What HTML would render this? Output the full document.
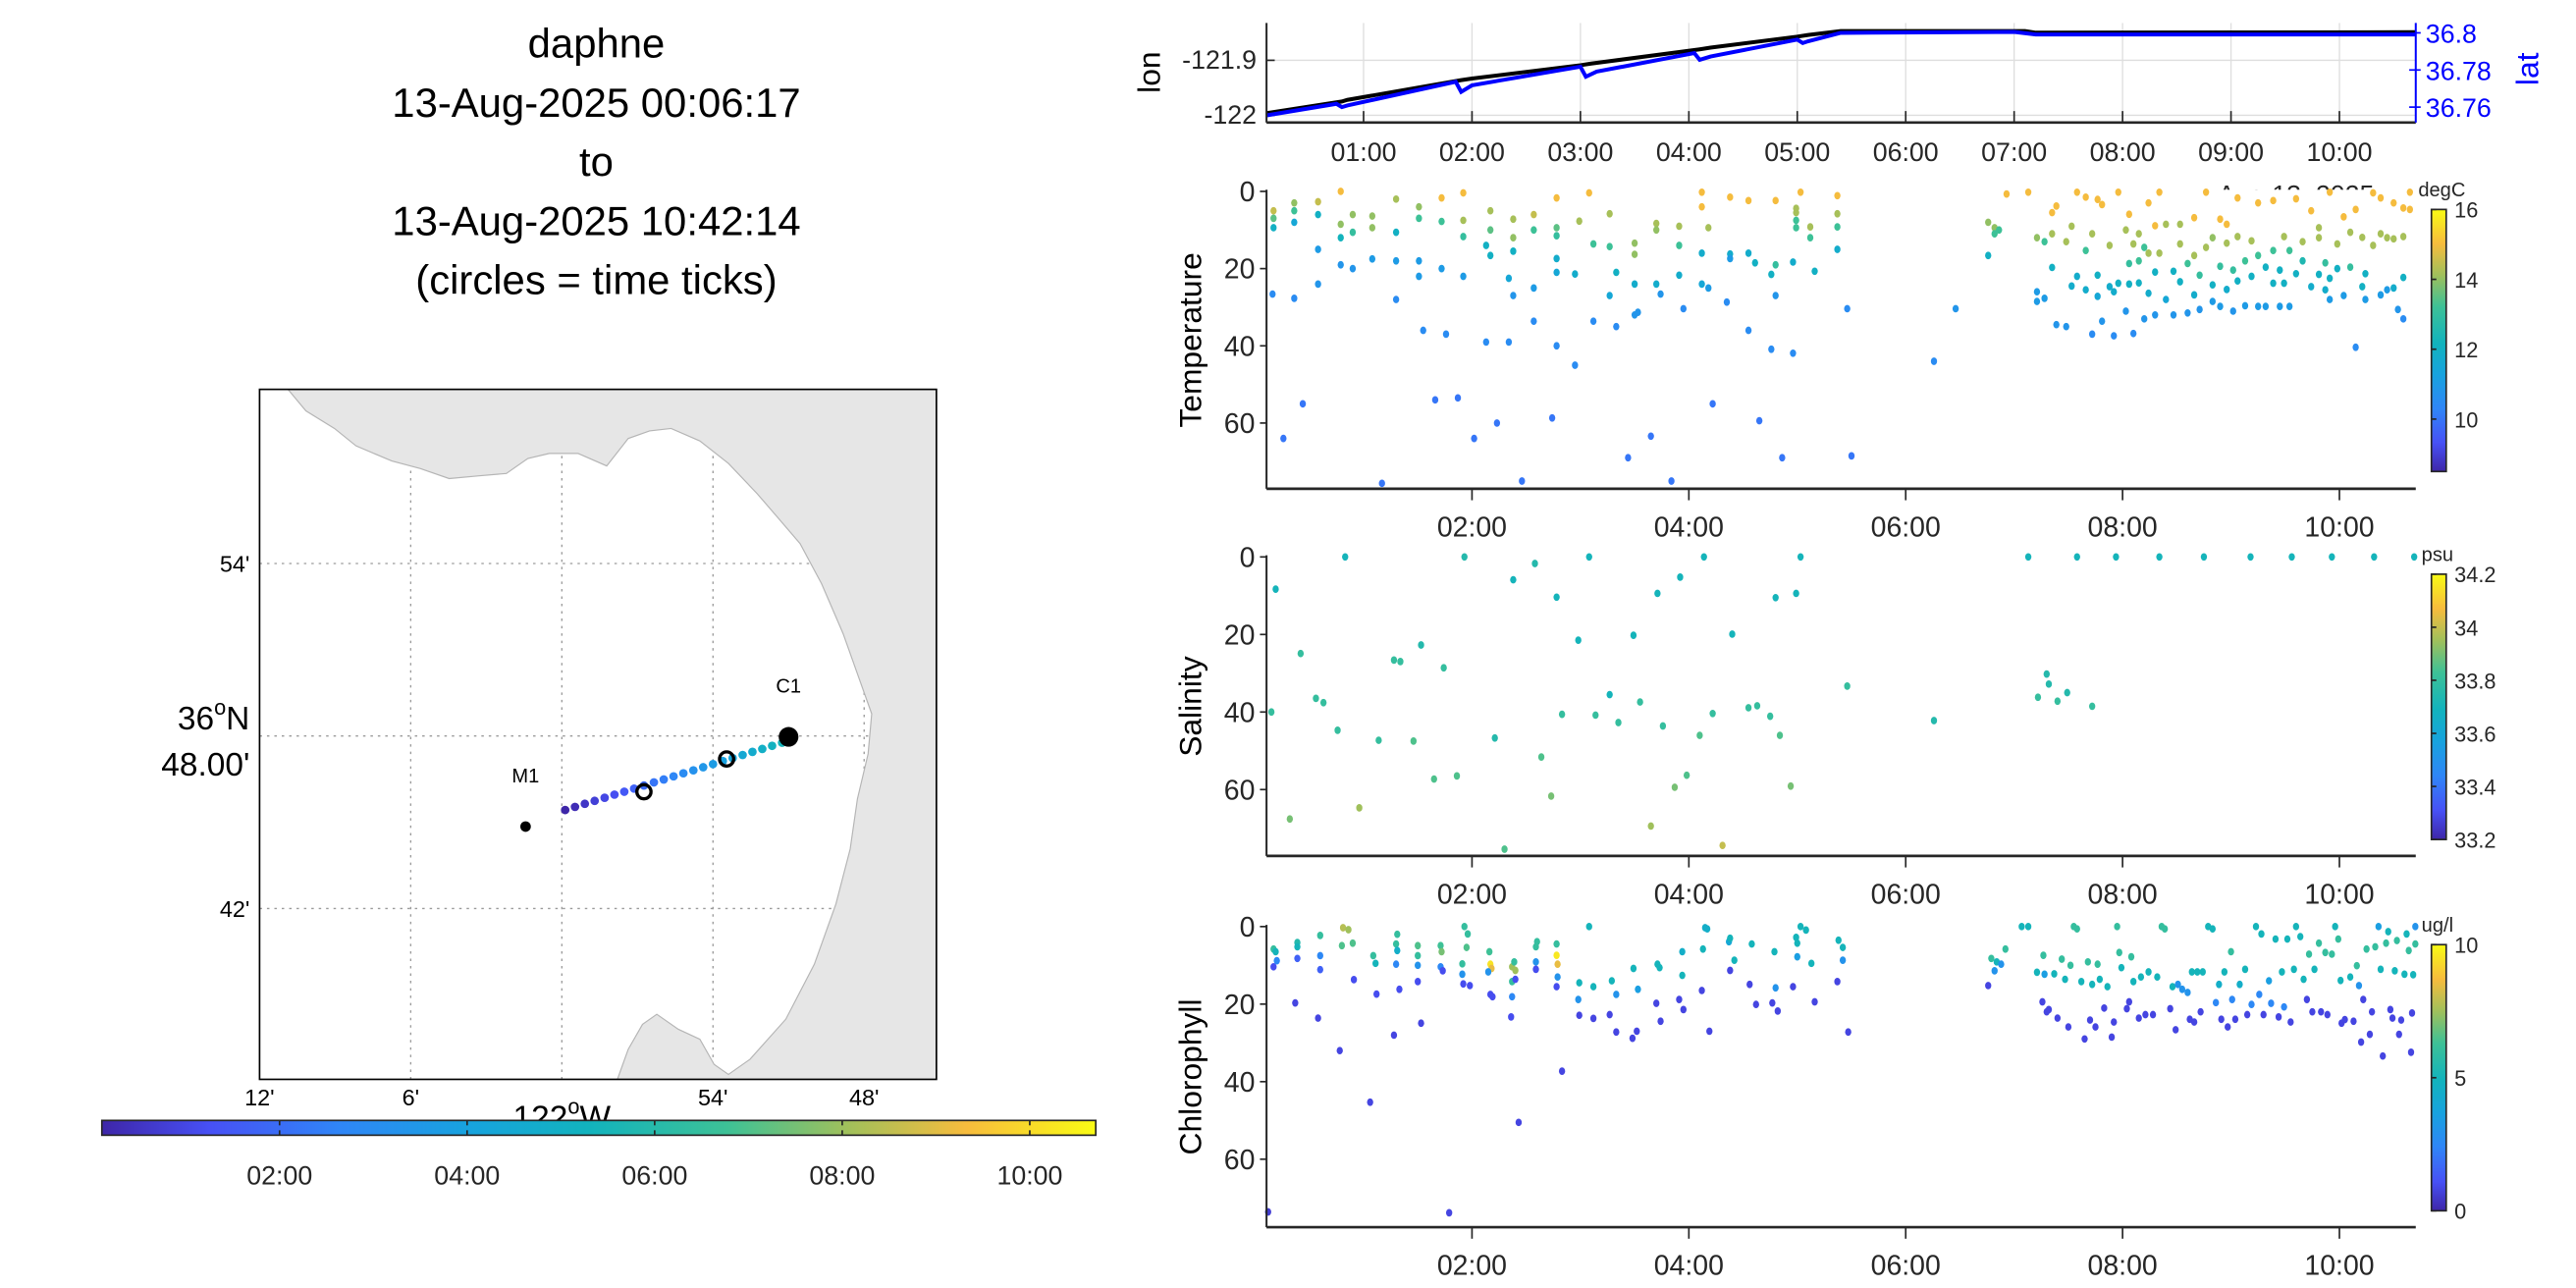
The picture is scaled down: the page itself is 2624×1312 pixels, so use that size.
<!DOCTYPE html>
<html><head><meta charset="utf-8"><title>daphne</title>
<style>
html,body{margin:0;padding:0;background:#fff;}
svg{display:block;font-family:"Liberation Sans",sans-serif;}
</style></head>
<body>
<svg id="fig" width="2624" height="1312" viewBox="0 0 1568 784" xmlns="http://www.w3.org/2000/svg">
<defs>
<linearGradient id="gradH" x1="0" y1="0" x2="1" y2="0"></linearGradient>
<linearGradient id="gradV" x1="0" y1="1" x2="0" y2="0"></linearGradient>
<clipPath id="mapClip"><rect x="158" y="237" width="412" height="420"/></clipPath>
</defs>
<g id="title" font-size="25" text-anchor="middle" fill="#000">
<text x="363" y="35">daphne</text>
<text x="363" y="71">13-Aug-2025 00:06:17</text>
<text x="363" y="107">to</text>
<text x="363" y="143">13-Aug-2025 10:42:14</text>
<text x="363" y="179">(circles = time ticks)</text>
</g>
<g id="map"></g>
<g id="cbarMap"></g>
<g id="posPlot"></g>
<g id="tempPlot"></g>
<g id="salPlot"></g>
<g id="chlPlot"></g>
</svg>
<script>
// ---------- data ----------
const startHour = 0.105, endHour = 10.704;
const timeTickHours = [1,2,3,4,5,6,7,8,9,10];
const evenTickHours = [2,4,6,8,10];
const depthTicks = [0,20,40,60];
const lonTicks = [-121.9, -122];
const latTicks = [36.8, 36.78, 36.76];
const lonTimes = [0.1,0.8,0.85,1.9,2.0,3.0,3.1,4.1,4.2,5.0,5.1,5.4,7.1,7.2,10.7];
const lonValues = [-121.996,-121.975,-121.972,-121.936,-121.933,-121.909,-121.906,-121.880,-121.877,-121.857,-121.854,-121.847,-121.847,-121.850,-121.849];
const latTimes = [0.1,0.75,0.8,0.85,1.85,1.9,2.0,3.0,3.05,3.15,4.05,4.1,4.2,5.0,5.05,5.1,5.4,7.0,7.2,10.7];
const latValues = [36.7555,36.7618,36.7600,36.7609,36.7736,36.7682,36.7718,36.7818,36.7764,36.7791,36.7891,36.7855,36.7873,36.7964,36.7945,36.7955,36.8000,36.8005,36.7991,36.7991];
const trackTimes = [0.1,0.3,0.55,0.8,1.0,1.2,1.45,1.7,1.95,2.2,2.45,2.7,2.95,3.2,3.45,3.7,3.95,4.2,4.45,4.7,4.95,5.2,5.4];
const trackLon = [-121.9978,-121.9913,-121.9848,-121.9783,-121.9717,-121.9652,-121.9587,-121.9522,-121.9457,-121.9391,-121.9326,-121.9261,-121.9196,-121.913,-121.9065,-121.9,-121.8935,-121.887,-121.8804,-121.8739,-121.8674,-121.8609,-121.8543];
const trackLat = [36.7571,36.7589,36.7607,36.7624,36.7642,36.7660,36.7677,36.7695,36.7713,36.7731,36.7748,36.7766,36.7784,36.7801,36.7819,36.7837,36.7855,36.7872,36.7890,36.7908,36.7925,36.7943,36.7961];
const tickCircleLon = [-121.9457,-121.891];
const tickCircleLat = [36.7677,36.7867];
const stationNames = ["M1","C1"];
const stationLon = [-122.024,-121.85];
const stationLat = [36.7475,36.7995];
const mapLonTicks = [-122.2,-122.1,-122.0,-121.9,-121.8];
const mapLonLabels = ["12'","6'","","54'","48'"];
const mapLatTicks = [36.9,36.8,36.7];
const mapLatLabels = ["54'","","42'"];

const tempObs = [[0.17,5,14.5],[0.17,7,13.5],[0.17,9.4,12],[0.16,26.6,10.5],[0.26,64,10],
[0.36,3,14],[0.36,5,13.2],[0.36,8,11.5],[0.36,27.7,10.5],[0.44,55,10],
[0.58,2.7,14.5],[0.58,6,12],[0.58,15,11],[0.58,24,10.8],
[0.79,0,15],[0.79,8.5,14],[0.79,12,12.2],[0.79,19,10.8],
[0.9,6,14],[0.9,10.6,13],[0.9,20,10.8],
[1.08,6.4,14],[1.08,9.4,14],[1.08,17.5,11],[1.17,75.6,10],
[1.3,2,14.2],[1.3,10.6,12],[1.3,18,11],[1.3,28,10.5],
[1.51,4,14],[1.51,7,13.2],[1.51,18,11],[1.51,22,11],[1.55,36,10.5],[1.66,54,10],
[1.72,1.7,15],[1.72,7.8,13.2],[1.72,20,11],[1.76,37,10.5],[1.87,53.5,10],
[1.92,0.4,15],[1.92,7.5,14.2],[1.92,11.7,13],[1.92,22,11],[2.02,64,10],
[2.13,39,10.5],[2.13,14,12],[2.17,5,14.2],[2.17,10,13.5],[2.17,16.6,12],[2.23,60,10],
[2.34,39,10.5],[2.34,22.5,11.5],[2.38,7.2,14.2],[2.38,12,14],[2.38,15.5,12],[2.38,27,10.8],[2.46,75,10],
[2.57,6,14.5],[2.57,10,13.2],[2.57,25,11],[2.57,33.6,10.5],[2.74,58.7,10],
[2.78,1.7,15],[2.78,9.4,13.5],[2.78,11.5,13],[2.78,17.4,11.8],[2.78,21,11.5],[2.78,40,10.5],
[2.95,45,10.5],[2.95,21.4,11.8],[2.99,7.7,14.2],[3.08,0.4,15],[3.12,13.6,13.2],[3.12,33.6,10.5],
[3.27,5.8,14.2],[3.27,14.3,13.2],[3.27,27,11.5],[3.33,21,12],[3.33,35,10.5],[3.44,69,10],
[3.5,13.4,14],[3.5,16.3,14],[3.5,24,11.8],[3.5,32,10.8],[3.53,31.3,10.8],[3.65,63.4,10],
[3.7,8.3,14.2],[3.7,10,14],[3.7,24,11.8],[3.74,26.6,10.8],[3.84,75,10],
[3.91,9,14.2],[3.91,14,13.2],[3.91,21.7,11.8],[3.95,30.4,10.5],
[4.12,0.2,15],[4.12,4,15],[4.12,16,11.8],[4.12,24,11.5],[4.18,9.4,14.2],[4.18,25,11],[4.22,55,10],
[4.35,28.7,10.5],[4.38,1.5,15],[4.38,16.2,11.8],[4.38,17.4,11],
[4.55,2.4,15],[4.55,36,10.5],[4.55,16,11.8],[4.61,18.5,12],[4.65,59.4,10],
[4.76,40.9,10.5],[4.76,21.5,12],[4.8,2.4,15],[4.8,19,13],[4.8,27,10.8],[4.86,69,10],
[4.96,41.9,10.5],[4.96,18.3,11.8],[4.99,4.4,14.2],[4.99,9.4,13.2],[4.99,7.5,13.2],[4.99,5.5,14.2],[5.03,0.2,15],
[5.12,9.2,14.2],[5.12,12,13.2],[5.16,20.7,12],
[5.37,1.1,15],[5.37,5.8,14.2],[5.37,9.2,13.2],[5.37,15,11.8],[5.46,30.4,10.5],[5.5,68.5,10],
[6.26,44,10.5],[6.46,30.4,10.8],[6.76,8,14],[6.76,16.6,12],[6.82,9.4,14],[6.82,11,13.2],[6.86,10,13.2],[6.93,0.7,15],
[7.13,0.2,15],[7.21,12,14],[7.21,26,11],[7.21,28.5,11],[7.28,13,13.2],[7.28,27.7,11],
[7.35,5.5,15],[7.35,11,14.2],[7.35,19.7,12],[7.39,34.5,10.8],[7.39,3.8,15],
[7.48,13,14.2],[7.48,35,10.8],[7.53,9,14.2],[7.53,24.5,11.8],[7.58,0.2,15],[7.58,22,11.8],
[7.66,1.5,15],[7.66,15.3,13.2],[7.66,25.5,11.8],[7.72,37,10.5],[7.72,11,14.2],
[7.77,2.1,15],[7.77,21.7,12],[7.77,27.2,11.5],[7.81,33.6,10.8],[7.81,3.4,15],
[7.88,14,14.2],[7.88,24.7,11.8],[7.92,37.4,10.5],[7.92,26,11.8],[7.96,0.2,15],[7.96,23.8,12],
[8.03,10,14.2],[8.03,31,10.8],[8.06,5.9,15],[8.06,18.7,13],[8.06,24,12],[8.1,36.8,10.5],[8.1,13.6,14.2],
[8.15,11,14.2],[8.15,18,13.2],[8.15,23.7,12],[8.2,33,10.8],[8.2,14.5,13.2],
[8.24,3,15],[8.24,16,14.2],[8.24,26.4,11.8],[8.3,8.9,15],[8.3,20.9,12],[8.3,32,10.8],
[8.34,0.2,15],[8.34,16,14.2],[8.4,28,11.5],[8.4,8.5,14.2],[8.47,32,10.8],[8.47,20.7,12],
[8.53,8.5,14.2],[8.53,13.6,14.2],[8.53,23.4,12],[8.6,31.5,10.8],[8.6,18.7,13.2],
[8.66,6.8,15],[8.66,16.6,14.2],[8.66,26.8,11.8],[8.71,30.6,10.8],[8.71,21.7,13],
[8.77,0.2,15],[8.77,14.5,14.2],[8.83,12,14],[8.83,24.2,12],[8.83,28.5,11],
[8.9,7.2,15],[8.9,19.4,13],[8.9,29.8,11],[8.96,8.5,15],[8.96,13.4,14.2],[8.96,25.4,11.8],
[9.02,31,10.8],[9.02,20.4,13],[9.06,1.7,15],[9.06,11.7,14.2],[9.06,23.2,12],
[9.13,29.6,11],[9.13,18,13.2],[9.19,12.8,14.2],[9.19,22,12],
[9.25,29.8,11],[9.25,16.6,13.2],[9.25,3,15],[9.32,29.8,11],[9.32,19.6,12],
[9.39,2.4,15],[9.39,23.8,12],[9.39,15.3,13.2],[9.45,29.8,11],[9.45,20.4,12],
[9.49,11.7,14.2],[9.49,23.8,12],[9.54,29.8,11],[9.54,15.3,13.2],[9.6,1.9,15],[9.6,21.3,12],
[9.66,13,14.2],[9.66,18,12.5],[9.74,5,15],[9.74,24.7,11.8],
[9.81,9.4,14.2],[9.81,12,14.2],[9.81,21.5,12],[9.87,18.5,13],[9.87,25.5,11.8],
[9.91,0.2,15],[9.91,22.5,12],[9.91,28,11],[9.98,13.6,14.2],[9.98,20,12],
[10.04,6.6,15],[10.04,27,11],[10.1,10.6,14.2],[10.1,19.6,13],
[10.15,4.7,15],[10.15,40.4,10.5],[10.21,11.9,14.2],[10.21,24.7,12],
[10.24,21.3,12],[10.24,28,11],[10.31,0.4,15],[10.31,14,14.2],
[10.38,11,14.2],[10.38,26.8,11],[10.38,1.7,15],[10.44,12,14.2],[10.44,25.5,11],
[10.5,3,15],[10.5,12.3,14.2],[10.5,25,11.8],[10.54,30.6,10.8],
[10.59,4.3,15],[10.59,11.7,14.2],[10.59,33,10.5],[10.59,22.3,12],[10.65,0.2,15],[10.65,4.7,15]];

const salObs = [[0.15,40,33.8],[0.19,8.3,33.7],[0.32,67.6,33.9],[0.42,24.9,33.8],[0.56,36.5,33.8],[0.63,37.6,33.8],[0.76,44.7,33.8],[0.83,0,33.7],[0.96,64.7,33.95],[1.14,47.3,33.8],[1.28,26.6,33.8],[1.34,27,33.8],[1.46,47.5,33.85],[1.53,22.7,33.75],[1.65,57.3,33.85],[1.74,28.6,33.8],[1.86,56.5,33.85],[1.93,0,33.75],[2.21,46.7,33.75],[2.3,75.4,33.85],[2.38,5.9,33.7],[2.58,1.7,33.75],[2.64,51.6,33.85],[2.73,61.7,33.9],[2.78,10.4,33.7],[2.83,40.6,33.8],[2.98,21.5,33.7],[3.08,0,33.7],[3.14,40.8,33.8],[3.27,35.5,33.7],[3.35,42.7,33.8],[3.49,20.2,33.7],[3.55,37.4,33.8],[3.65,69.4,33.95],[3.71,9.4,33.7],[3.76,43.6,33.8],[3.87,59.4,33.9],[3.92,5.2,33.7],[3.98,56.3,33.85],[4.1,46,33.85],[4.14,0,33.7],[4.22,40.4,33.8],[4.31,74.4,34.0],[4.4,19.9,33.7],[4.55,38.9,33.8],[4.63,38.4,33.8],[4.75,41.1,33.8],[4.8,10.5,33.7],[4.84,46,33.85],[4.94,59.1,33.9],[4.99,9.4,33.7],[5.03,0,33.7],[5.46,33.3,33.8],[6.26,42.2,33.75],[7.13,0,33.7],[7.22,36.2,33.8],[7.3,30.2,33.75],[7.32,32.8,33.75],[7.4,37.2,33.8],[7.49,35,33.75],[7.58,0,33.7],[7.72,38.5,33.8],[7.94,0,33.7],[8.34,0,33.7],[8.75,0,33.7],[9.18,0,33.7],[9.56,0,33.7],[9.93,0,33.7],[10.32,0,33.7],[10.69,0,33.7]];

const chlObs = [[0.12,73.6,0.6],[0.17,5.8,6],[0.19,6.5,5],[0.17,10.4,1],[0.2,8.8,2.5],
[0.37,19.7,0.8],[0.39,4.1,5.5],[0.39,5.2,5],[0.39,8.2,1.5],
[0.58,23.6,0.8],[0.6,2.3,6],[0.6,11.1,1.5],[0.6,7.5,2.5],
[0.78,32,0.8],[0.81,0.3,7.8],[0.86,0.8,7.5],[0.8,4.9,6.5],[0.9,4.3,6.5],[0.91,13.7,1],
[1.06,45.3,0.8],[1.09,7.5,6],[1.11,9.5,5],[1.12,17.4,1],
[1.28,28,0.8],[1.31,2,6],[1.3,4.5,6],[1.31,6.2,4.5],[1.3,9.7,2.5],[1.33,16.2,1],
[1.5,4.9,6.5],[1.5,7.5,6],[1.5,10,3],[1.5,14.2,1],[1.53,24.9,0.8],
[1.71,4.9,6.3],[1.72,6.5,7],[1.71,10.4,2.5],[1.73,11.4,1],[1.79,73.8,0.8],
[1.91,9.6,6],[1.91,12.3,3],[1.92,14.8,1],[1.93,0,6],[1.96,1.9,6],[1.95,5.4,6.5],[1.98,15.2,1],
[2.16,6.5,6.3],[2.17,9.7,9.5],[2.18,10.8,8.5],[2.15,11.7,3],[2.17,17.5,1],[2.19,18.1,1],
[2.37,10.4,7.5],[2.4,11.3,7.5],[2.39,9.1,6],[2.37,14.2,6],[2.37,18.1,2.5],[2.4,13.6,1],[2.36,23.3,1],
[2.43,50.5,0.8],[2.59,11,1],[2.59,9.1,3],[2.59,5.2,6],[2.6,3.9,6],
[2.78,7.4,9.6],[2.79,9.7,8.5],[2.78,4.5,6],[2.79,13,3],[2.78,15.5,1],[2.83,37.3,0.8],
[2.99,14.5,5],[2.98,18.8,3],[2.99,22.9,0.8],[3.08,0,5],[3.12,15.5,5],[3.12,23.7,0.8],
[3.27,22.7,0.8],[3.29,14,5],[3.33,27.2,0.8],[3.33,17.5,3],
[3.49,10.8,5],[3.48,28.8,0.8],[3.52,27,0.8],[3.53,16.2,3.5],
[3.7,19.8,0.8],[3.71,9.7,5],[3.73,10.6,5],[3.74,24.4,0.8],
[3.91,18.8,0.8],[3.94,6.5,4.5],[3.95,21.4,0.8],[3.94,12.6,5],
[4.12,16.5,0.8],[4.13,5.8,5],[4.15,0.3,4.5],[4.17,0.6,4.5],[4.19,27,0.8],
[4.38,11.3,0.8],[4.37,3.9,4],[4.38,3,5],[4.42,8.7,5],
[4.56,14.9,0.8],[4.58,4.5,5],[4.62,20.1,0.8],
[4.79,6.5,5],[4.8,15.8,3],[4.82,21.8,0.8],[4.77,19.7,0.8],
[4.96,15.5,0.8],[5.0,7.8,3.5],[4.99,2.8,5],[5.0,4.3,5],[5.03,0,5],[5.08,0.9,5],[5.13,9.5,5],[5.16,19.4,0.8],
[5.37,14.2,0.8],[5.38,3.5,5],[5.42,5.4,5],[5.42,8.7,3],[5.47,27.2,0.8],
[6.76,15.2,0.8],[6.79,8.2,6],[6.82,11.4,3],[6.84,9.1,5],[6.88,9.7,3],[6.92,5.8,6],
[7.07,0,5],[7.13,0,5],
[7.21,11.8,5],[7.26,19.4,0.8],[7.27,7.4,6],[7.28,12.3,3.5],[7.3,22,0.8],[7.32,21.4,0.8],
[7.37,12.2,5],[7.4,23.6,0.8],[7.44,8.4,6],[7.47,13.6,5],[7.5,25.9,0.8],[7.52,10,6],
[7.55,0,6],[7.58,0.6,6],[7.62,14.2,5],[7.65,29,0.8],[7.68,9.1,6],[7.7,24.1,0.8],[7.72,14.9,5],[7.75,25.9,0.8],[7.77,9.7,6],[7.79,13.6,5],[7.83,21,0.8],[7.86,15.5,5],[7.9,28.5,0.8],[7.92,24.6,0.8],[7.95,0,6],[7.97,6.7,6],[7.99,10.6,5],[8.04,21.2,0.8],[8.06,19.4,0.8],[8.08,7.8,6],[8.1,14.2,5],[8.15,23.6,0.8],[8.17,13,5],[8.21,22.7,0.8],[8.24,11.7,5],[8.28,22.7,0.8],[8.32,13,5],[8.36,0,6],[8.39,0.6,6],[8.44,21.2,0.8],[8.46,15.5,5],[8.49,26.6,0.8],[8.51,14.9,3],[8.55,16.2,3],[8.6,17,3],[8.62,23.9,0.8],[8.64,11.7,5],[8.66,24.6,0.8],[8.69,11.7,5],[8.72,22,0.8],[8.74,11.7,5],[8.79,0,5],[8.83,0.6,5],[8.86,19.6,2.5],[8.89,14.9,4.5],[8.91,23.9,0.8],[8.94,11.7,5],[8.97,25.9,0.8],[9.0,6.5,6],[9.01,18.8,2.5],[9.04,23.9,0.8],[9.08,14.9,4.5],[9.13,11,5],[9.15,22.7,0.8],[9.19,20.1,2.5],[9.23,0,5],[9.26,17.5,2.5],[9.28,1.9,5],[9.3,22.7,0.8],[9.35,14,3.5],[9.37,19.8,2.5],[9.41,3.2,5],[9.44,23.3,0.8],[9.47,11.7,5],[9.49,20.7,2.5],[9.52,3.2,5],[9.55,24.6,0.8],[9.58,11,5],[9.6,0,5],[9.64,2.6,5],[9.67,13.6,5],[9.7,18.8,0.8],[9.72,7.1,6],[9.75,22,0.8],[9.77,11,5],[9.81,4.3,6],[9.83,22,0.8],[9.87,6.7,6],[9.89,22.7,0.8],[9.93,7.1,6],[9.96,0,5],[9.99,3.2,6],[10.01,13.9,5],[10.02,24.9,0.8],[10.05,24,0.8],[10.1,13,5],[10.13,24.4,0.8],[10.16,10.1,6],[10.18,15.2,3],[10.2,29.8,0.8],[10.22,18.8,0.8],[10.25,5.8,6],[10.28,27.8,0.8],[10.3,22,0.8],[10.33,5.2,6],[10.36,0,3.5],[10.38,11,5],[10.4,33.4,0.8],[10.43,4.3,6],[10.45,1.3,5],[10.47,21.4,0.8],[10.49,23.6,0.8],[10.51,11.4,5],[10.53,3.6,6],[10.55,27.8,0.8],[10.57,24.1,0.8],[10.6,12.3,5],[10.62,1.9,5],[10.64,6.2,6],[10.66,32.4,0.8],[10.67,22.3,0.8],[10.68,12.4,5],[10.7,0,3],[10.7,4.5,6]];

const tempCbarTicks = [10,12,14,16];
const salCbarTicks = [33.2,33.4,33.6,33.8,34,34.2];
const chlCbarTicks = [0,5,10];

// ---------- helpers ----------
const NS = "http://www.w3.org/2000/svg";
function mk(parent, tag, attrs, text){
  const e = document.createElementNS(NS, tag);
  for (const k in attrs) e.setAttribute(k, attrs[k]);
  if (text !== undefined) e.textContent = text;
  parent.appendChild(e);
  return e;
}
const PAR = [[0,62,38,168],[0.11,71,81,246],[0.24,47,134,247],[0.37,23,163,222],[0.49,18,179,189],[0.63,62,193,150],[0.75,160,192,91],[0.87,247,188,61],[1,249,251,20]];
function parula(f){
  f = Math.max(0, Math.min(1, f));
  for (let i=1;i<PAR.length;i++){
    if (f <= PAR[i][0]){
      const a=PAR[i-1], b=PAR[i], u=(f-a[0])/(b[0]-a[0]);
      return "rgb("+[1,2,3].map(j=>Math.round(a[j]+(b[j]-a[j])*u)).join(",")+")";
    }
  }
  return "rgb(249,251,20)";
}
["gradH","gradV"].forEach(id=>{
  const g=document.getElementById(id);
  PAR.forEach(p=>mk(g,"stop",{offset:p[0],"stop-color":"rgb("+p[1]+","+p[2]+","+p[3]+")"}));
});
function fmtH(h){ return (h<10?"0":"")+h+":00"; }

const X0 = 764, PXH = 66;
const xT = t => X0 + PXH*t;
const AX_L = xT(startHour), AX_R = xT(endHour);
const AXC = "#262626";

// ---------- position plot ----------
(function(){
  const g = document.getElementById("posPlot");
  const top=14, bot=74.6;
  const yLon = v => 36.7 + (-121.9 - v)*335;
  const yLat = v => 20 + (36.8 - v)*1130;
  timeTickHours.forEach(h=>{
    const l=mk(g,"line",{x1:xT(h),x2:xT(h),y1:top,y2:bot,stroke:"#dedede","stroke-width":0.8});
    
    
  });
  lonTicks.forEach(v=>{
    const l=mk(g,"line",{x1:AX_L,x2:AX_R,y1:yLon(v),y2:yLon(v),stroke:"#dedede","stroke-width":0.8});
    
    
    const t=mk(g,"text",{x:AX_L-6,y:yLon(v)+5,"text-anchor":"end","font-size":16,fill:"#262626"},String(v));
    
    
    mk(g,"line",{x1:AX_L,x2:AX_L+5,y1:yLon(v),y2:yLon(v),stroke:AXC,"stroke-width":1});
  });
  latTicks.forEach(v=>{
    const t=mk(g,"text",{x:AX_R+6,y:yLat(v)+6,"font-size":16,fill:"#0000ff"},String(v));
    
    
    mk(g,"line",{x1:AX_R-4,x2:AX_R+3,y1:yLat(v),y2:yLat(v),stroke:"#0000ff","stroke-width":1});
  });
  let d = lonTimes.map((t,i)=>(i?"L":"M")+xT(t).toFixed(1)+","+yLon(lonValues[i]).toFixed(1)).join("");
  const lonPath = mk(g,"path",{d:d,fill:"none",stroke:"#000","stroke-width":2.4});
  
  
  d = latTimes.map((t,i)=>(i?"L":"M")+xT(t).toFixed(1)+","+yLat(latValues[i]).toFixed(1)).join("");
  const latPath = mk(g,"path",{d:d,fill:"none",stroke:"#0000ff","stroke-width":2.4});
  
  
  mk(g,"line",{x1:AX_L,x2:AX_L,y1:top,y2:bot,stroke:AXC,"stroke-width":1.2});
  mk(g,"line",{x1:AX_L,x2:AX_R,y1:bot,y2:bot,stroke:AXC,"stroke-width":1.6});
  mk(g,"line",{x1:AX_R,x2:AX_R,y1:top,y2:bot,stroke:"#0000ff","stroke-width":1.2});
  timeTickHours.forEach(h=>{
    mk(g,"line",{x1:xT(h),x2:xT(h),y1:bot-7,y2:bot,stroke:AXC,"stroke-width":1});
    const t=mk(g,"text",{x:xT(h),y:98,"text-anchor":"middle","font-size":16,fill:"#262626"},fmtH(h));
    
    
  });
  const yl=mk(g,"text",{transform:"translate(706,44) rotate(-90)","text-anchor":"middle","font-size":19,fill:"#000"},"lon");
  
  
  const yr=mk(g,"text",{transform:"translate(1545,42) rotate(-90)","text-anchor":"middle","font-size":19,fill:"#0000ff"},"lat");
  
  
  const dl=mk(g,"text",{x:1350,y:124,"font-size":16,fill:"#262626"},"Aug 13, 2025");
  
  
})();

// ---------- scatter panels ----------
function panel(gid, cfg){
  const g = document.getElementById(gid);
  const yD = d => cfg.y0 + d*cfg.k;
  mk(g,"rect",{x:AX_L-2,y:cfg.y0-1,width:AX_R-AX_L+4,height:cfg.bot-cfg.y0+1,fill:"#fff"});
  const vmin=cfg.vmin, vmax=cfg.vmax;
  cfg.obs.forEach(o=>{
    const c=mk(g,"ellipse",{cx:xT(o[0]).toFixed(1),cy:yD(o[1]).toFixed(1),rx:1.9,ry:2.3,fill:parula((o[2]-vmin)/(vmax-vmin))});
    
    
  });
  mk(g,"line",{x1:AX_L,x2:AX_L,y1:cfg.y0-1,y2:cfg.bot,stroke:AXC,"stroke-width":1.2});
  mk(g,"line",{x1:AX_L,x2:AX_R,y1:cfg.bot,y2:cfg.bot,stroke:AXC,"stroke-width":1.6});
  depthTicks.forEach(v=>{
    mk(g,"line",{x1:AX_L-4,x2:AX_L,y1:yD(v),y2:yD(v),stroke:AXC,"stroke-width":1});
    const t=mk(g,"text",{x:AX_L-7,y:yD(v)+6,"text-anchor":"end","font-size":17,fill:"#262626"},String(v));
    
    
  });
  evenTickHours.forEach(h=>{
    mk(g,"line",{x1:xT(h),x2:xT(h),y1:cfg.bot,y2:cfg.bot+7,stroke:AXC,"stroke-width":1});
    const t=mk(g,"text",{x:xT(h),y:cfg.bot+29,"text-anchor":"middle","font-size":17,fill:"#262626"},fmtH(h));
    
    
  });
  const yt=mk(g,"text",{transform:"translate(731,"+((cfg.y0+cfg.bot)/2)+") rotate(-90)","text-anchor":"middle","font-size":19,fill:"#000"},cfg.title);
  
  
  const cb=mk(g,"rect",{x:1480,y:cfg.cbTop,width:9,height:cfg.cbBot-cfg.cbTop,fill:"url(#gradV)",stroke:"#262626","stroke-width":1});
  
  
  const yC = v => cfg.cbBot - (v-vmin)/(vmax-vmin)*(cfg.cbBot-cfg.cbTop);
  cfg.cbTicks.forEach(v=>{
    mk(g,"line",{x1:1480,x2:1483,y1:yC(v),y2:yC(v),stroke:"#262626","stroke-width":1});
    const t=mk(g,"text",{x:1494,y:yC(v)+5,"font-size":13,fill:"#262626"},String(v));
    
    
  });
  const u=mk(g,"text",{x:cfg.unitX,y:cfg.cbTop-8,"font-size":12,fill:"#262626"},cfg.unit);
  
  
}
panel("tempPlot",{name:"temperature",title:"Temperature",obs:tempObs,y0:116.5,k:2.35,bot:297.5,vmin:8.5,vmax:16,cbTop:127.5,cbBot:287,cbTicks:tempCbarTicks,unit:"degC",unitX:1472});
panel("salPlot",{name:"salinity",title:"Salinity",obs:salObs,y0:339,k:2.36,bot:521,vmin:33.2,vmax:34.2,cbTop:349.5,cbBot:511,cbTicks:salCbarTicks,unit:"psu",unitX:1474});
panel("chlPlot",{name:"chlorophyll",title:"Chlorophyll",obs:chlObs,y0:564,k:2.36,bot:747,vmin:0,vmax:10,cbTop:575,cbBot:737,cbTicks:chlCbarTicks,unit:"ug/l",unitX:1474});

// ---------- map ----------
(function(){
  const g=document.getElementById("map");
  const lonX = v => 342 + (v+122)*920;
  const latY = v => 448 - (v-36.8)*60*17.5;
  const L=158,R=570,T=237,B=657;
  mk(g,"rect",{x:L,y:T,width:R-L,height:B-T,fill:"#fff"});
  mapLonTicks.forEach((v,i)=>{
    if (i>0) mk(g,"line",{x1:lonX(v),x2:lonX(v),y1:T,y2:B,stroke:"#9a9a9a","stroke-width":0.8,"stroke-dasharray":"1.5,3"});
    const t=mk(g,"text",{x:lonX(v),y:673,"text-anchor":"middle","font-size":14,fill:"#000"},mapLonLabels[i]);
    
    
  });
  mapLatTicks.forEach((v,i)=>{
    mk(g,"line",{x1:L,x2:R,y1:latY(v),y2:latY(v),stroke:"#9a9a9a","stroke-width":0.8,"stroke-dasharray":"1.5,3"});
    if (mapLatLabels[i]){
      const t=mk(g,"text",{x:152,y:latY(v)+5,"text-anchor":"end","font-size":14,fill:"#000"},mapLatLabels[i]);
      
      
    }
  });
  const coast=[[395,32],[420,75],[460,110],[490,145],[540,175],[580,190],[620,210],[660,205],[700,200],[730,170],[760,160],[800,160],[840,185],[870,130],[900,115],[930,110],[970,135],[1010,180],[1050,240],[1080,290],[1110,340],[1140,420],[1170,520],[1190,600],[1210,680],[1205,760],[1190,850],[1180,950],[1160,1060],[1130,1180],[1090,1290],[1040,1370],[1010,1400],[990,1380],[970,1330],[940,1310],[910,1280],[890,1300],[870,1350],[855,1410],[1300,1410],[1300,32]];
  const cx = z => 160+(z-360)*0.436, cy = z => 237+(z-32)*0.3048;
  const cp = coast.map((p,i)=>(i?"L":"M")+cx(p[0]).toFixed(1)+","+cy(p[1]).toFixed(1)).join("")+"Z";
  const land=mk(g,"path",{d:cp,fill:"#e6e6e6",stroke:"#b5b5b5","stroke-width":0.7,"clip-path":"url(#mapClip)"});
  
  
  mk(g,"rect",{x:L,y:T,width:R-L,height:B-T,fill:"none",stroke:"#000","stroke-width":1});
  trackTimes.forEach((t,i)=>{
    const c=mk(g,"circle",{cx:lonX(trackLon[i]),cy:latY(trackLat[i]),r:2.6,fill:parula((t-startHour)/(endHour-startHour))});
    
    
  });
  tickCircleLon.forEach((v,i)=>{
    const c=mk(g,"circle",{cx:lonX(v),cy:latY(tickCircleLat[i]),r:4.3,fill:"none",stroke:"#000","stroke-width":2});
    
    
  });
  stationNames.forEach((n,i)=>{
    const big = n==="C1";
    const c=mk(g,"circle",{cx:lonX(stationLon[i]),cy:latY(stationLat[i]),r:big?6:3.2,fill:"#000"});
    
    
    const t=mk(g,"text",{x:lonX(stationLon[i]),y:latY(stationLat[i])-27,"text-anchor":"middle","font-size":12,fill:"#000"},n);
    
    
  });
  const a=mk(g,"text",{x:152,y:444,"text-anchor":"end","font-size":20,fill:"#000"});
  
  
  a.innerHTML='36<tspan font-size="13" dy="-9">o</tspan><tspan dy="9">N</tspan>';
  const b=mk(g,"text",{x:152,y:472,"text-anchor":"end","font-size":20,fill:"#000"},"48.00'");
  
  
  const w=mk(g,"text",{x:342,y:687,"text-anchor":"middle","font-size":20,fill:"#000"});
  
  
  w.innerHTML='122<tspan font-size="13" dy="-9">o</tspan><tspan dy="9">W</tspan>';
})();

// ---------- time colorbar ----------
(function(){
  const g=document.getElementById("cbarMap");
  const L=62,R=667,T=682,B=691;
  const r=mk(g,"rect",{x:L,y:T,width:R-L,height:B-T,fill:"url(#gradH)",stroke:"#262626","stroke-width":1});
  
  
  const xC = h => L + (h-startHour)/(endHour-startHour)*(R-L);
  evenTickHours.forEach(h=>{
    mk(g,"line",{x1:xC(h),x2:xC(h),y1:T,y2:T+3,stroke:"#262626","stroke-width":1});
    mk(g,"line",{x1:xC(h),x2:xC(h),y1:B-3,y2:B,stroke:"#262626","stroke-width":1});
    const t=mk(g,"text",{x:xC(h),y:721,"text-anchor":"middle","font-size":16,fill:"#262626"},fmtH(h));
    
    
  });
})();
</script>
</body></html>
